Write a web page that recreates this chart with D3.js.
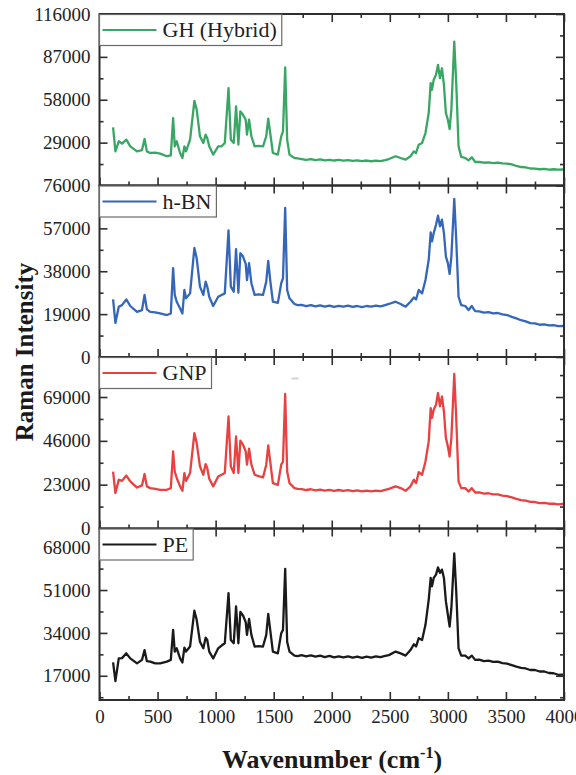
<!DOCTYPE html>
<html><head><meta charset="utf-8">
<script src="https://cdn.jsdelivr.net/npm/d3@7"></script>
<style>body{margin:0;background:#fff}svg{display:block}</style>
</head><body><div id="chart"></div>
<script>
const wavenumbers = [117,137,166,194,231,265,323,366,388,408,
437,480,522,580,614,634,648,665,694,714,
731,745,780,817,837,865,894,914,928,945,
979,1022,1051,1079,1111,1131,1156,1176,1196,1213,
1236,1259,1270,1288,1308,1336,1370,1408,1436,1453,
1470,1493,1536,1565,1580,1599,1616,1636,1679,1707,
1740,1780,1820,1860,1900,1940,1980,2020,2060,2100,2140,2180,2220,2260,2300,2340,2380,2420,2460,2492,
2550,2593,2636,2678,2707,2726,2749,2778,2807,2835,
2852,2863,2878,2898,2915,2932,2949,2966,2983,3000,
3015,3030,3055,3072,3092,3115,3150,3178,3206,3235,
3270,3310,3350,3390,3430,3470,3510,3550,3590,3630,3670,3710,3750,3790,3830,3870,3910,3950,3990,4000];

const ghValues = [39300,23100,29900,28300,31000,26500,23100,24000,31500,23100,
22000,22300,21600,19800,20300,45600,26500,29900,22000,18600,
26500,23100,31000,57300,51300,33300,28800,34400,32000,26500,
20900,26500,26500,28800,65900,31000,28800,53500,27600,50100,
47800,44500,34400,44500,33300,26500,26800,26500,33300,45200,
35500,22000,20900,33300,36600,79800,31000,20900,18600,18300,
17900,17300,17800,17200,17600,17000,17400,16900,17300,16800,17200,16700,17000,16500,16900,16400,16800,16500,17200,17900,
19800,18600,17500,19800,23100,22000,27600,28800,35500,49000,
69200,64700,71500,74900,81600,72600,79300,68100,49000,44500,
38200,51300,97300,69200,26500,19300,18600,17000,19100,15900,
15900,15400,15700,15200,15400,14900,14800,14300,13200,12500,12200,11500,11400,11000,11200,10800,11000,10700,10900,10800];

const hbnValues = [25500,15100,22300,23000,25500,22600,20000,20800,27500,21100,
20000,19800,19300,18600,19300,39400,27500,24500,21500,19300,
29700,26000,28200,48300,43800,31200,27500,33400,31200,26700,
22600,26700,27500,28200,56100,31200,28900,47800,28500,46000,
44500,41300,34100,41600,32700,27500,27800,27500,33400,42600,
34100,24500,24000,32700,34900,66100,29700,26000,23500,23000,
23100,22500,23000,22400,22900,22300,22800,22200,22700,22300,22800,22200,22600,22100,22600,22300,22800,22400,23000,23500,
24500,23500,22300,24500,26400,25500,29700,28200,34100,43100,
55200,51200,54900,58600,62600,57900,60900,54900,44500,41600,
36800,44500,70100,52000,26700,23000,22600,20800,22600,20300,
20200,19700,19900,19300,19500,18900,18600,17800,17100,16300,15800,15000,14900,14300,14500,14000,14100,13700,13800,13700];

const gnpValues = [29900,18600,25600,25000,27800,24700,21500,22600,28600,22100,
21200,20800,20300,20300,21200,40400,29900,26500,22100,19800,
29100,25000,29100,50100,44800,32600,28200,33800,31700,26100,
22100,27300,28200,29100,58800,32600,29100,48300,29100,46100,
44000,40400,33500,41900,33500,28200,27500,26800,33500,43600,
35200,23800,22900,33500,35200,70600,29900,23800,21200,20800,
20700,20200,20600,20000,20400,19900,20300,19800,20200,19800,20100,19600,20000,19500,19900,19500,19900,19600,20300,20800,
22100,21200,19800,22100,25600,23800,29600,28200,35200,45700,
63200,58000,62300,65000,71100,64100,69300,61400,47500,43100,
37800,47500,81100,58000,24700,21200,21200,19400,21200,18900,
18900,18300,18500,17900,17900,17300,17000,16300,15500,14900,14600,14000,13900,13300,13500,13000,13100,12700,12900,12800];

const peValues = [22300,14900,23900,24000,25900,23900,21900,23300,27200,22800,
22600,21900,21900,22600,23300,35200,26600,27900,23900,22300,
28200,26600,28600,42800,39200,30500,27900,32100,31200,26600,
23900,27900,29000,29900,49800,31200,29900,44500,29900,42300,
40900,38300,33200,39600,33200,28600,28800,28600,33200,41500,
35200,26600,25900,33900,35200,59400,30500,26600,25000,24800,
25200,24700,25100,24600,25000,24400,24900,24300,24700,24300,24700,24200,24600,24100,24600,24200,24700,24400,24900,25200,
26600,25900,25000,27200,29500,28600,31900,31200,37200,47200,
55800,52500,55800,57100,60000,57800,59100,55800,46500,41200,
36500,43800,65500,50500,27900,25000,25000,23900,25000,23300,
23400,22800,23000,22500,22600,22000,21800,21200,20600,20100,19900,19300,19300,18700,18700,18100,18000,17400,17500,17300];

const seriesNames = ["GH (Hybrid)", "h-BN", "GNP", "PE"];
const seriesValues = [ghValues, hbnValues, gnpValues, peValues];
const seriesColors = ["#38a764", "#3467ba", "#e8413f", "#1a1a1a"];
const yDomains = [[0, 116000], [0, 76000], [0, 90000], [7400, 75400]];
const yMajorTicks = [[29000, 58000, 87000, 116000], [0, 19000, 38000, 57000, 76000], [0, 23000, 46000, 69000], [17000, 34000, 51000, 68000]];
const yMinorTicks = [[14500, 43500, 72500, 101500], [9500, 28500, 47500, 66500], [11500, 34500, 57500, 80500], [8500, 25500, 42500, 59500]];
const xMajorTicks = [0, 500, 1000, 1500, 2000, 2500, 3000, 3500, 4000];
const xMinorTicks = [250, 750, 1250, 1750, 2250, 2750, 3250, 3750];
const xDomain = [0, 4000];
const xTitle = "Wavenumber (cm";
const yTitle = "Raman Intensity";

(function draw() {
const W = 576, H = 775;
const pL = 99.5, pR = 564, pT = 14, pB = 700;
const ph = (pB - pT) / 4;
const frameColor = "#2e2e2e";
const font = "'Liberation Serif', 'Times New Roman', serif";
const fmt = d3.format("d");

const svg = d3.select("#chart").append("svg").attr("width", W).attr("height", H)
  .style("background", "#fff");

const x = d3.scaleLinear().domain(xDomain).range([pL, pR]);

function styleAxis(g) {
  g.select(".domain").remove();
  g.selectAll(".tick line").attr("stroke", frameColor).attr("stroke-width", 1.6);
  g.selectAll(".tick text").attr("fill", "#222").style("font-family", font).style("font-size", "19px");
}

seriesNames.forEach((name, i) => {
  const y0 = pT + i * ph, y1 = y0 + ph;
  const y = d3.scaleLinear().domain(yDomains[i]).range([y1, y0]);
  const g = svg.append("g");

  g.append("clipPath").attr("id", "clip" + i).append("rect")
    .attr("x", pL).attr("y", y0).attr("width", pR - pL).attr("height", ph);

  const data = wavenumbers.map((w, k) => [w, seriesValues[i][k]]);
  const line = d3.line().x(d => x(d[0])).y(d => y(d[1]));
  g.append("path").datum(data).attr("d", line)
    .attr("fill", "none").attr("stroke", seriesColors[i])
    .attr("stroke-width", 2.3).attr("stroke-linejoin", "round")
    .attr("clip-path", "url(#clip" + i + ")");

  g.append("g").attr("transform", `translate(${pL},0)`)
    .call(d3.axisLeft(y).tickValues(yMajorTicks[i]).tickSize(-8).tickPadding(9).tickFormat(fmt))
    .call(styleAxis);
  g.append("g").attr("transform", `translate(${pL},0)`)
    .call(d3.axisLeft(y).tickValues(yMinorTicks[i]).tickSize(-4).tickFormat(""))
    .call(styleAxis);
  g.append("g").attr("transform", `translate(${pR},0)`)
    .call(d3.axisRight(y).tickValues(yMajorTicks[i]).tickSize(-8).tickFormat(""))
    .call(styleAxis);
  g.append("g").attr("transform", `translate(${pR},0)`)
    .call(d3.axisRight(y).tickValues(yMinorTicks[i]).tickSize(-4).tickFormat(""))
    .call(styleAxis);
  g.append("g").attr("transform", `translate(0,${y0})`)
    .call(d3.axisTop(x).tickValues(xMajorTicks).tickSize(-8).tickFormat(""))
    .call(styleAxis);
  g.append("g").attr("transform", `translate(0,${y0})`)
    .call(d3.axisTop(x).tickValues(xMinorTicks).tickSize(-4).tickFormat(""))
    .call(styleAxis);
  const bAxis = d3.axisBottom(x).tickValues(xMajorTicks).tickSize(-8).tickPadding(10)
    .tickFormat(i < 3 ? "" : fmt);
  g.append("g").attr("transform", `translate(0,${y1})`).call(bAxis).call(styleAxis);
  g.append("g").attr("transform", `translate(0,${y1})`)
    .call(d3.axisBottom(x).tickValues(xMinorTicks).tickSize(-4).tickFormat(""))
    .call(styleAxis);

  g.append("rect").attr("x", pL).attr("y", y0).attr("width", pR - pL).attr("height", ph)
    .attr("fill", "none").attr("stroke", frameColor).attr("stroke-width", 2);

  const lg = g.append("g");
  const box = lg.append("rect").attr("x", pL).attr("y", y0 + 0.5).attr("height", 31)
    .attr("fill", "#fff").attr("stroke", "#6a6a6a").attr("stroke-width", 1.2);
  lg.append("line").attr("x1", pL + 3).attr("x2", pL + 57)
    .attr("y1", y0 + 16).attr("y2", y0 + 16)
    .attr("stroke", seriesColors[i]).attr("stroke-width", 2.2);
  const t = lg.append("text").attr("x", pL + 63).attr("y", y0 + 23)
    .attr("fill", "#222").style("font-family", font).style("font-size", "22px").text(name);
  const tw = t.node().getComputedTextLength();
  box.attr("width", 63 + tw + 5);
});

svg.append("rect").attr("x", 291.5).attr("y", 377.5).attr("width", 7).attr("height", 2)
  .attr("fill", "#d4d4d4");

const xt = svg.append("text").attr("x", 332).attr("y", 768).attr("text-anchor", "middle")
  .attr("fill", "#1a1a1a").style("font-family", font).style("font-size", "26px").style("font-weight", "bold");
xt.append("tspan").text(xTitle);
xt.append("tspan").attr("dy", -10).style("font-size", "16px").text("-1");
xt.append("tspan").attr("dy", 10).text(")");

svg.append("text").attr("transform", "translate(33,352) rotate(-90)").attr("text-anchor", "middle")
  .attr("fill", "#1a1a1a").style("font-family", font).style("font-size", "25px").style("font-weight", "bold")
  .text(yTitle);
})();
</script>
</body></html>
